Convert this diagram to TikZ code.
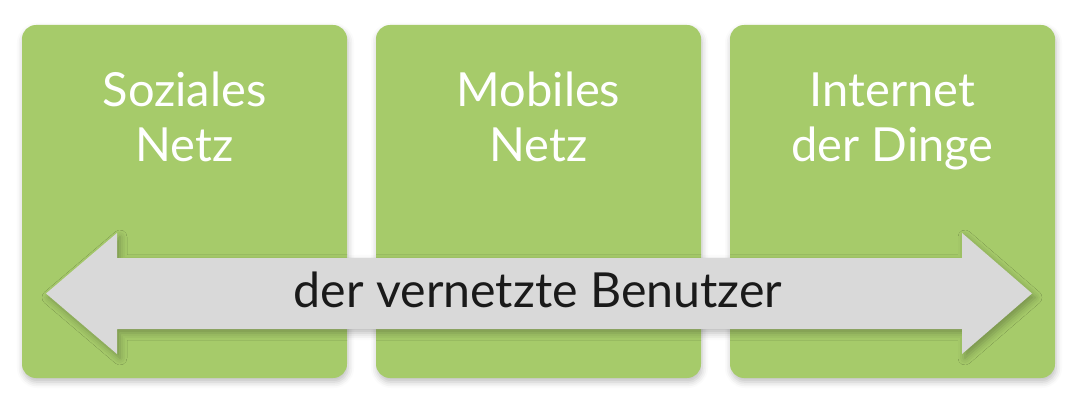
\documentclass[tikz,border=0pt]{standalone}
\usepackage{fontspec}
\setmainfont{Lato}
\usetikzlibrary{shadows.blur}
\definecolor{boxgreen}{RGB}{166,203,106}
\definecolor{arrowgray}{RGB}{217,217,217}
\definecolor{textblack}{RGB}{26,26,26}

\begin{document}
\begin{tikzpicture}[x=1pt,y=1pt,
  netzbox/.style={fill=boxgreen,rounded corners=14pt,
    blur shadow={shadow xshift=1pt,shadow yshift=-4pt,shadow blur radius=6pt,shadow opacity=25}},
  boxlabel/.style={white,align=center,anchor=base,font=\fontsize{47}{55}\selectfont},
  arrowlabel/.style={textblack,anchor=base,font=\fontsize{48.3}{55}\selectfont}]
\useasboundingbox (0,0) rectangle (1080,405);
% the three fields
\fill [netzbox] (22,27) rectangle (347,380);
\fill [netzbox] (376,27) rectangle (701,380);
\fill [netzbox] (730,27) rectangle (1055,380);
\node [boxlabel] (sozial) at (184.5,243) {Soziales\\Netz};
\node [boxlabel] (mobil) at (538.5,243) {Mobiles\\Netz};
\node [boxlabel] (dinge) at (892.5,243) {Internet\\der Dinge};
% double arrow across
\fill [arrowgray,blur shadow={shadow xshift=3pt,shadow yshift=-4pt,shadow blur radius=7pt,shadow opacity=28}]
  (46,111.5) -- (117,172) -- (117,147) -- (962,147) -- (962,172) -- (1032,111.5)
  -- (962,51) -- (962,76) -- (117,76) -- (117,51) -- cycle;
\node [arrowlabel] (nutzer) at (538,97.5) {der vernetzte Benutzer};
\end{tikzpicture}
\end{document}
